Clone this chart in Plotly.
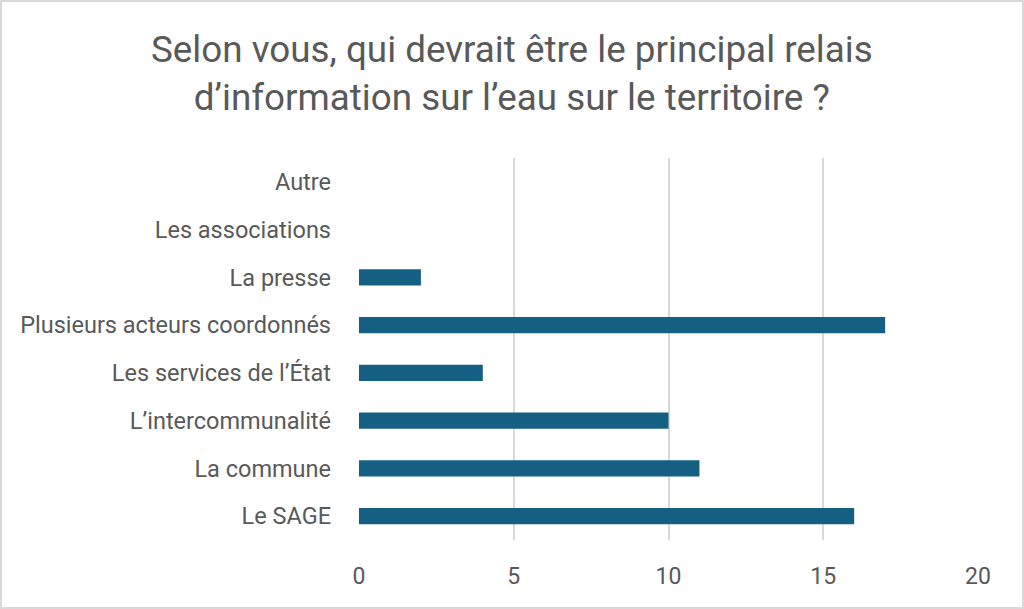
import plotly.graph_objects as go

categories = ["Le SAGE", "La commune", "L’intercommunalité", "Les services de l’État",
              "Plusieurs acteurs coordonnés", "La presse", "Les associations", "Autre"]
values = [16, 11, 10, 4, 17, 2, 0, 0]
tick_vals = [0, 5, 10, 15, 20]

title_text = "Selon vous, qui devrait être le principal relais<br>d’information sur l’eau sur le territoire ?"

W, H = 1024, 609
ML, MR, MT, MB = 359, 46, 158, 69
PW, PH = W - ML - MR, H - MT - MB

fig = go.Figure(go.Bar(
    x=values, y=categories, orientation="h",
    marker=dict(color="#156082", line=dict(width=0)),
    width=0.34,
))

fig.update_layout(
    width=W, height=H,
    paper_bgcolor="white", plot_bgcolor="white",
    margin=dict(l=ML, r=MR, t=MT, b=MB, autoexpand=False),
    font=dict(family="Roboto", size=23, color="#595959"),
    showlegend=False,
    annotations=[dict(text=title_text, xref="paper", yref="paper",
                      x=(W / 2 - ML) / PW, y=1 + (MT - 73) / PH,
                      xanchor="center", yanchor="middle", showarrow=False, align="center",
                      font=dict(family="Roboto", size=36.8, color="#595959"))],
    shapes=[dict(type="rect", xref="paper", yref="paper", x0=-(ML - 1) / PW, x1=1 + (MR - 1) / PW,
                 y0=-(MB - 1) / PH, y1=1 + (MT - 1) / PH, line=dict(color="#D9D9D9", width=2),
                 fillcolor="rgba(0,0,0,0)", layer="below")],
)
fig.update_xaxes(range=[0, 20], tickvals=tick_vals, showgrid=True, gridcolor="#D9D9D9",
                 gridwidth=1.5, zeroline=False, showline=False, ticks="",
                 ticklabelstandoff=20,
                 tickfont=dict(size=23, color="#595959"))
fig.update_yaxes(categoryorder="array", categoryarray=categories, showgrid=False,
                 showline=False, ticks="", ticklabelstandoff=27, zeroline=False,
                 tickfont=dict(size=23.5, color="#595959"))

fig.write_html("out.html", config={"displayModeBar": False},
               post_script="document.body.style.margin='0px';")
